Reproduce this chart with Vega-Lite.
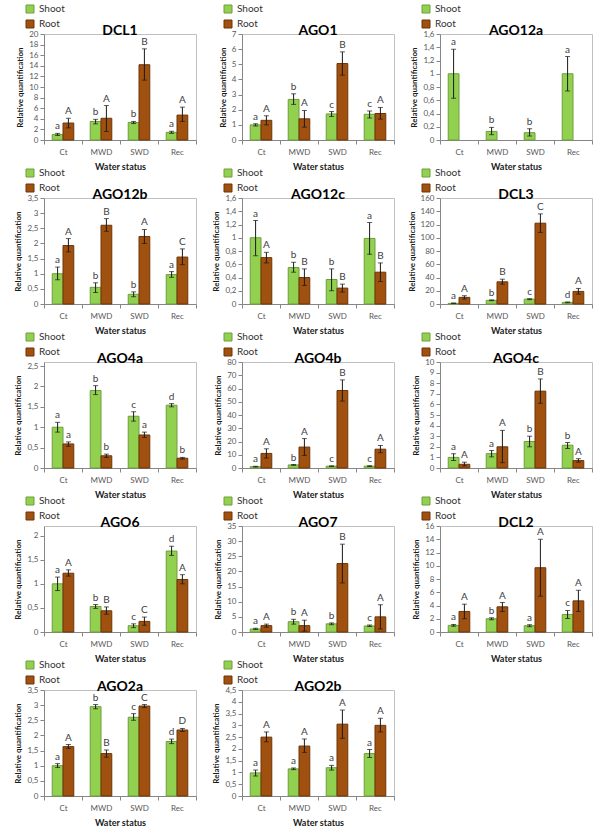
{
"$schema":"https://vega.github.io/schema/vega-lite/v6.json",
"padding":{"left":14,"top":3,"right":0,"bottom":0},
"data":{"values":[
{"g":"DCL1","c":"Ct","t":"Shoot","m":1.05,"lo":0.85,"hi":1.25,"l":"a"},
{"g":"DCL1","c":"MWD","t":"Shoot","m":3.5,"lo":3.05,"hi":3.9,"l":"b"},
{"g":"DCL1","c":"SWD","t":"Shoot","m":3.3,"lo":3.1,"hi":3.5,"l":"b"},
{"g":"DCL1","c":"Rec","t":"Shoot","m":1.45,"lo":1.25,"hi":1.65,"l":"a"},
{"g":"DCL1","c":"Ct","t":"Root","m":3.2,"lo":2.3,"hi":4.1,"l":"A"},
{"g":"DCL1","c":"MWD","t":"Root","m":4.1,"lo":1.6,"hi":6.5,"l":"A"},
{"g":"DCL1","c":"SWD","t":"Root","m":14.2,"lo":11.3,"hi":17.2,"l":"B"},
{"g":"DCL1","c":"Rec","t":"Root","m":4.7,"lo":3.5,"hi":6.2,"l":"A"},
{"g":"AGO1","c":"Ct","t":"Shoot","m":1.0,"lo":0.93,"hi":1.07,"l":"a"},
{"g":"AGO1","c":"MWD","t":"Shoot","m":2.68,"lo":2.35,"hi":3.05,"l":"b"},
{"g":"AGO1","c":"SWD","t":"Shoot","m":1.72,"lo":1.55,"hi":1.88,"l":"c"},
{"g":"AGO1","c":"Rec","t":"Shoot","m":1.7,"lo":1.45,"hi":1.92,"l":"c"},
{"g":"AGO1","c":"Ct","t":"Root","m":1.3,"lo":1.0,"hi":1.6,"l":"A"},
{"g":"AGO1","c":"MWD","t":"Root","m":1.4,"lo":0.85,"hi":1.95,"l":"A"},
{"g":"AGO1","c":"SWD","t":"Root","m":5.05,"lo":4.28,"hi":5.82,"l":"B"},
{"g":"AGO1","c":"Rec","t":"Root","m":1.75,"lo":1.38,"hi":2.15,"l":"A"},
{"g":"AGO12a","c":"Ct","t":"Shoot","m":1.0,"lo":0.63,"hi":1.37,"l":"a"},
{"g":"AGO12a","c":"MWD","t":"Shoot","m":0.13,"lo":0.08,"hi":0.19,"l":"b"},
{"g":"AGO12a","c":"SWD","t":"Shoot","m":0.11,"lo":0.06,"hi":0.17,"l":"b"},
{"g":"AGO12a","c":"Rec","t":"Shoot","m":1.0,"lo":0.74,"hi":1.26,"l":"a"},
{"g":"AGO12b","c":"Ct","t":"Shoot","m":1.0,"lo":0.8,"hi":1.22,"l":"a"},
{"g":"AGO12b","c":"MWD","t":"Shoot","m":0.55,"lo":0.38,"hi":0.7,"l":"b"},
{"g":"AGO12b","c":"SWD","t":"Shoot","m":0.32,"lo":0.24,"hi":0.4,"l":"b"},
{"g":"AGO12b","c":"Rec","t":"Shoot","m":0.97,"lo":0.88,"hi":1.07,"l":"a"},
{"g":"AGO12b","c":"Ct","t":"Root","m":1.93,"lo":1.72,"hi":2.16,"l":"A"},
{"g":"AGO12b","c":"MWD","t":"Root","m":2.6,"lo":2.4,"hi":2.82,"l":"B"},
{"g":"AGO12b","c":"SWD","t":"Root","m":2.23,"lo":2.0,"hi":2.46,"l":"A"},
{"g":"AGO12b","c":"Rec","t":"Root","m":1.55,"lo":1.3,"hi":1.82,"l":"C"},
{"g":"AGO12c","c":"Ct","t":"Shoot","m":1.0,"lo":0.73,"hi":1.26,"l":"a"},
{"g":"AGO12c","c":"MWD","t":"Shoot","m":0.55,"lo":0.48,"hi":0.63,"l":"b"},
{"g":"AGO12c","c":"SWD","t":"Shoot","m":0.37,"lo":0.2,"hi":0.53,"l":"b"},
{"g":"AGO12c","c":"Rec","t":"Shoot","m":0.99,"lo":0.75,"hi":1.23,"l":"a"},
{"g":"AGO12c","c":"Ct","t":"Root","m":0.7,"lo":0.62,"hi":0.78,"l":"A"},
{"g":"AGO12c","c":"MWD","t":"Root","m":0.4,"lo":0.28,"hi":0.53,"l":"B"},
{"g":"AGO12c","c":"SWD","t":"Root","m":0.24,"lo":0.18,"hi":0.3,"l":"B"},
{"g":"AGO12c","c":"Rec","t":"Root","m":0.48,"lo":0.34,"hi":0.62,"l":"B"},
{"g":"DCL3","c":"Ct","t":"Shoot","m":1.0,"lo":0.6,"hi":1.4,"l":"a"},
{"g":"DCL3","c":"MWD","t":"Shoot","m":5.5,"lo":5.0,"hi":6.2,"l":"b"},
{"g":"DCL3","c":"SWD","t":"Shoot","m":7.3,"lo":6.5,"hi":8.0,"l":"c"},
{"g":"DCL3","c":"Rec","t":"Shoot","m":2.5,"lo":2.0,"hi":3.0,"l":"d"},
{"g":"DCL3","c":"Ct","t":"Root","m":10,"lo":7.5,"hi":12.5,"l":"A"},
{"g":"DCL3","c":"MWD","t":"Root","m":33.5,"lo":30,"hi":37.5,"l":"B"},
{"g":"DCL3","c":"SWD","t":"Root","m":122,"lo":108,"hi":136,"l":"C"},
{"g":"DCL3","c":"Rec","t":"Root","m":19,"lo":15,"hi":23.5,"l":"A"},
{"g":"AGO4a","c":"Ct","t":"Shoot","m":1.0,"lo":0.88,"hi":1.12,"l":"a"},
{"g":"AGO4a","c":"MWD","t":"Shoot","m":1.9,"lo":1.8,"hi":2.02,"l":"b"},
{"g":"AGO4a","c":"SWD","t":"Shoot","m":1.27,"lo":1.15,"hi":1.38,"l":"c"},
{"g":"AGO4a","c":"Rec","t":"Shoot","m":1.54,"lo":1.5,"hi":1.58,"l":"d"},
{"g":"AGO4a","c":"Ct","t":"Root","m":0.59,"lo":0.53,"hi":0.64,"l":"a"},
{"g":"AGO4a","c":"MWD","t":"Root","m":0.3,"lo":0.26,"hi":0.34,"l":"b"},
{"g":"AGO4a","c":"SWD","t":"Root","m":0.81,"lo":0.75,"hi":0.88,"l":"a"},
{"g":"AGO4a","c":"Rec","t":"Root","m":0.24,"lo":0.22,"hi":0.26,"l":"b"},
{"g":"AGO4b","c":"Ct","t":"Shoot","m":1.0,"lo":0.7,"hi":1.3,"l":"a"},
{"g":"AGO4b","c":"MWD","t":"Shoot","m":2.3,"lo":2.0,"hi":2.6,"l":"b"},
{"g":"AGO4b","c":"SWD","t":"Shoot","m":1.4,"lo":1.2,"hi":1.6,"l":"c"},
{"g":"AGO4b","c":"Rec","t":"Shoot","m":1.4,"lo":1.1,"hi":1.7,"l":"c"},
{"g":"AGO4b","c":"Ct","t":"Root","m":11,"lo":7.5,"hi":14.5,"l":"A"},
{"g":"AGO4b","c":"MWD","t":"Root","m":15.8,"lo":9.5,"hi":22.2,"l":"A"},
{"g":"AGO4b","c":"SWD","t":"Root","m":58.5,"lo":50.5,"hi":66.5,"l":"B"},
{"g":"AGO4b","c":"Rec","t":"Root","m":14.2,"lo":11.5,"hi":17,"l":"A"},
{"g":"AGO4c","c":"Ct","t":"Shoot","m":1.0,"lo":0.7,"hi":1.35,"l":"a"},
{"g":"AGO4c","c":"MWD","t":"Shoot","m":1.35,"lo":1.05,"hi":1.65,"l":"a"},
{"g":"AGO4c","c":"SWD","t":"Shoot","m":2.5,"lo":2.0,"hi":3.0,"l":"b"},
{"g":"AGO4c","c":"Rec","t":"Shoot","m":2.15,"lo":1.85,"hi":2.4,"l":"b"},
{"g":"AGO4c","c":"Ct","t":"Root","m":0.35,"lo":0.2,"hi":0.55,"l":"A"},
{"g":"AGO4c","c":"MWD","t":"Root","m":2.0,"lo":0.5,"hi":3.55,"l":"A"},
{"g":"AGO4c","c":"SWD","t":"Root","m":7.25,"lo":6.1,"hi":8.4,"l":"B"},
{"g":"AGO4c","c":"Rec","t":"Root","m":0.7,"lo":0.55,"hi":0.88,"l":"A"},
{"g":"AGO6","c":"Ct","t":"Shoot","m":1.0,"lo":0.86,"hi":1.14,"l":"a"},
{"g":"AGO6","c":"MWD","t":"Shoot","m":0.53,"lo":0.49,"hi":0.57,"l":"b"},
{"g":"AGO6","c":"SWD","t":"Shoot","m":0.13,"lo":0.09,"hi":0.17,"l":"c"},
{"g":"AGO6","c":"Rec","t":"Shoot","m":1.68,"lo":1.59,"hi":1.78,"l":"d"},
{"g":"AGO6","c":"Ct","t":"Root","m":1.22,"lo":1.16,"hi":1.29,"l":"A"},
{"g":"AGO6","c":"MWD","t":"Root","m":0.44,"lo":0.37,"hi":0.52,"l":"B"},
{"g":"AGO6","c":"SWD","t":"Root","m":0.22,"lo":0.14,"hi":0.31,"l":"C"},
{"g":"AGO6","c":"Rec","t":"Root","m":1.09,"lo":1.0,"hi":1.19,"l":"A"},
{"g":"AGO7","c":"Ct","t":"Shoot","m":1.0,"lo":0.8,"hi":1.2,"l":"a"},
{"g":"AGO7","c":"MWD","t":"Shoot","m":3.4,"lo":2.6,"hi":4.2,"l":"b"},
{"g":"AGO7","c":"SWD","t":"Shoot","m":2.7,"lo":2.4,"hi":3.0,"l":"b"},
{"g":"AGO7","c":"Rec","t":"Shoot","m":2.0,"lo":1.8,"hi":2.3,"l":"c"},
{"g":"AGO7","c":"Ct","t":"Root","m":2.1,"lo":1.6,"hi":2.6,"l":"A"},
{"g":"AGO7","c":"MWD","t":"Root","m":2.1,"lo":0.3,"hi":3.9,"l":"A"},
{"g":"AGO7","c":"SWD","t":"Root","m":22.6,"lo":16.2,"hi":29.0,"l":"B"},
{"g":"AGO7","c":"Rec","t":"Root","m":5.0,"lo":1.0,"hi":9.0,"l":"A"},
{"g":"DCL2","c":"Ct","t":"Shoot","m":1.0,"lo":0.85,"hi":1.15,"l":"a"},
{"g":"DCL2","c":"MWD","t":"Shoot","m":2.0,"lo":1.85,"hi":2.15,"l":"b"},
{"g":"DCL2","c":"SWD","t":"Shoot","m":0.95,"lo":0.8,"hi":1.1,"l":"a"},
{"g":"DCL2","c":"Rec","t":"Shoot","m":2.65,"lo":2.05,"hi":3.25,"l":"c"},
{"g":"DCL2","c":"Ct","t":"Root","m":3.1,"lo":2.0,"hi":4.2,"l":"A"},
{"g":"DCL2","c":"MWD","t":"Root","m":3.8,"lo":3.1,"hi":4.45,"l":"A"},
{"g":"DCL2","c":"SWD","t":"Root","m":9.7,"lo":5.4,"hi":14.0,"l":"A"},
{"g":"DCL2","c":"Rec","t":"Root","m":4.7,"lo":3.1,"hi":6.3,"l":"A"},
{"g":"AGO2a","c":"Ct","t":"Shoot","m":1.0,"lo":0.94,"hi":1.07,"l":"a"},
{"g":"AGO2a","c":"MWD","t":"Shoot","m":2.95,"lo":2.88,"hi":3.02,"l":"b"},
{"g":"AGO2a","c":"SWD","t":"Shoot","m":2.6,"lo":2.5,"hi":2.72,"l":"c"},
{"g":"AGO2a","c":"Rec","t":"Shoot","m":1.8,"lo":1.73,"hi":1.88,"l":"d"},
{"g":"AGO2a","c":"Ct","t":"Root","m":1.63,"lo":1.57,"hi":1.7,"l":"A"},
{"g":"AGO2a","c":"MWD","t":"Root","m":1.4,"lo":1.28,"hi":1.52,"l":"B"},
{"g":"AGO2a","c":"SWD","t":"Root","m":2.97,"lo":2.92,"hi":3.02,"l":"C"},
{"g":"AGO2a","c":"Rec","t":"Root","m":2.18,"lo":2.13,"hi":2.23,"l":"D"},
{"g":"AGO2b","c":"Ct","t":"Shoot","m":0.98,"lo":0.85,"hi":1.1,"l":"a"},
{"g":"AGO2b","c":"MWD","t":"Shoot","m":1.15,"lo":1.12,"hi":1.19,"l":"a"},
{"g":"AGO2b","c":"SWD","t":"Shoot","m":1.2,"lo":1.1,"hi":1.3,"l":"a"},
{"g":"AGO2b","c":"Rec","t":"Shoot","m":1.8,"lo":1.63,"hi":1.97,"l":"a"},
{"g":"AGO2b","c":"Ct","t":"Root","m":2.5,"lo":2.3,"hi":2.72,"l":"A"},
{"g":"AGO2b","c":"MWD","t":"Root","m":2.12,"lo":1.85,"hi":2.42,"l":"A"},
{"g":"AGO2b","c":"SWD","t":"Root","m":3.05,"lo":2.45,"hi":3.65,"l":"A"},
{"g":"AGO2b","c":"Rec","t":"Root","m":3.0,"lo":2.72,"hi":3.3,"l":"A"}
]},
"columns":3,
"spacing":{"row":58,"column":46},
"bounds":"flush",
"resolve":{"legend":{"color":"independent","stroke":"independent"}},
"concat":[
{"title":"DCL1","transform":[{"filter":"datum.g=='DCL1'"}],"width":152,"height":106,
"encoding":{"x":{"field":"c","type":"nominal","sort":["Ct","MWD","SWD","Rec"],"title":"Water status","scale":{"paddingInner":0,"paddingOuter":0}},"xOffset":{"field":"t","type":"nominal","scale":{"domain":["Shoot","Root"],"paddingInner":0,"paddingOuter":0.76}}},
"layer":[
{"mark":"bar","encoding":{"y":{"field":"m","type":"quantitative","title":"Relative quantification","scale":{"domain":[0,20]},"axis":{"values":[0,2,4,6,8,10,12,14,16,18,20]}},"color":{"field":"t","type":"nominal","scale":{"domain":["Shoot","Root"],"range":["#92D050","#A0500F"]},"legend":{"title":null}},"stroke":{"field":"t","type":"nominal","scale":{"domain":["Shoot","Root"],"range":["#6E9E3C","#6E3508"]},"legend":{"title":null}}}},
{"mark":"rule","encoding":{"y":{"field":"lo","type":"quantitative","title":"Relative quantification","axis":{"values":[0,2,4,6,8,10,12,14,16,18,20]}},"y2":{"field":"hi"}}},
{"mark":"tick","encoding":{"y":{"field":"lo","type":"quantitative","title":"Relative quantification","axis":{"values":[0,2,4,6,8,10,12,14,16,18,20]}}}},
{"mark":"tick","encoding":{"y":{"field":"hi","type":"quantitative","title":"Relative quantification","axis":{"values":[0,2,4,6,8,10,12,14,16,18,20]}}}},
{"mark":"text","encoding":{"y":{"field":"hi","type":"quantitative","title":"Relative quantification","axis":{"values":[0,2,4,6,8,10,12,14,16,18,20]}},"text":{"field":"l"}}}
]},
{"title":"AGO1","transform":[{"filter":"datum.g=='AGO1'"}],"width":152,"height":106,
"encoding":{"x":{"field":"c","type":"nominal","sort":["Ct","MWD","SWD","Rec"],"title":"Water status","scale":{"paddingInner":0,"paddingOuter":0}},"xOffset":{"field":"t","type":"nominal","scale":{"domain":["Shoot","Root"],"paddingInner":0,"paddingOuter":0.76}}},
"layer":[
{"mark":"bar","encoding":{"y":{"field":"m","type":"quantitative","title":"Relative quantification","scale":{"domain":[0,7]},"axis":{"values":[0,1,2,3,4,5,6,7]}},"color":{"field":"t","type":"nominal","scale":{"domain":["Shoot","Root"],"range":["#92D050","#A0500F"]},"legend":{"title":null}},"stroke":{"field":"t","type":"nominal","scale":{"domain":["Shoot","Root"],"range":["#6E9E3C","#6E3508"]},"legend":{"title":null}}}},
{"mark":"rule","encoding":{"y":{"field":"lo","type":"quantitative","title":"Relative quantification","axis":{"values":[0,1,2,3,4,5,6,7]}},"y2":{"field":"hi"}}},
{"mark":"tick","encoding":{"y":{"field":"lo","type":"quantitative","title":"Relative quantification","axis":{"values":[0,1,2,3,4,5,6,7]}}}},
{"mark":"tick","encoding":{"y":{"field":"hi","type":"quantitative","title":"Relative quantification","axis":{"values":[0,1,2,3,4,5,6,7]}}}},
{"mark":"text","encoding":{"y":{"field":"hi","type":"quantitative","title":"Relative quantification","axis":{"values":[0,1,2,3,4,5,6,7]}},"text":{"field":"l"}}}
]},
{"title":"AGO12a","transform":[{"filter":"datum.g=='AGO12a'"}],"width":152,"height":106,
"encoding":{"x":{"field":"c","type":"nominal","sort":["Ct","MWD","SWD","Rec"],"title":"Water status","scale":{"paddingInner":0,"paddingOuter":0}},"xOffset":{"field":"t","type":"nominal","scale":{"domain":["Shoot","Root"],"paddingInner":0,"paddingOuter":0.76}}},
"layer":[
{"mark":"bar","encoding":{"y":{"field":"m","type":"quantitative","title":"Relative quantification","scale":{"domain":[0,1.6]},"axis":{"values":[0,0.2,0.4,0.6,0.8,1,1.2,1.4,1.6]}},"color":{"field":"t","type":"nominal","scale":{"domain":["Shoot","Root"],"range":["#92D050","#A0500F"]},"legend":{"title":null}},"stroke":{"field":"t","type":"nominal","scale":{"domain":["Shoot","Root"],"range":["#6E9E3C","#6E3508"]},"legend":{"title":null}}}},
{"mark":"rule","encoding":{"y":{"field":"lo","type":"quantitative","title":"Relative quantification","axis":{"values":[0,0.2,0.4,0.6,0.8,1,1.2,1.4,1.6]}},"y2":{"field":"hi"}}},
{"mark":"tick","encoding":{"y":{"field":"lo","type":"quantitative","title":"Relative quantification","axis":{"values":[0,0.2,0.4,0.6,0.8,1,1.2,1.4,1.6]}}}},
{"mark":"tick","encoding":{"y":{"field":"hi","type":"quantitative","title":"Relative quantification","axis":{"values":[0,0.2,0.4,0.6,0.8,1,1.2,1.4,1.6]}}}},
{"mark":"text","encoding":{"y":{"field":"hi","type":"quantitative","title":"Relative quantification","axis":{"values":[0,0.2,0.4,0.6,0.8,1,1.2,1.4,1.6]}},"text":{"field":"l"}}}
]},
{"title":"AGO12b","transform":[{"filter":"datum.g=='AGO12b'"}],"width":152,"height":106,
"encoding":{"x":{"field":"c","type":"nominal","sort":["Ct","MWD","SWD","Rec"],"title":"Water status","scale":{"paddingInner":0,"paddingOuter":0}},"xOffset":{"field":"t","type":"nominal","scale":{"domain":["Shoot","Root"],"paddingInner":0,"paddingOuter":0.76}}},
"layer":[
{"mark":"bar","encoding":{"y":{"field":"m","type":"quantitative","title":"Relative quantification","scale":{"domain":[0,3.5]},"axis":{"values":[0,0.5,1,1.5,2,2.5,3,3.5]}},"color":{"field":"t","type":"nominal","scale":{"domain":["Shoot","Root"],"range":["#92D050","#A0500F"]},"legend":{"title":null}},"stroke":{"field":"t","type":"nominal","scale":{"domain":["Shoot","Root"],"range":["#6E9E3C","#6E3508"]},"legend":{"title":null}}}},
{"mark":"rule","encoding":{"y":{"field":"lo","type":"quantitative","title":"Relative quantification","axis":{"values":[0,0.5,1,1.5,2,2.5,3,3.5]}},"y2":{"field":"hi"}}},
{"mark":"tick","encoding":{"y":{"field":"lo","type":"quantitative","title":"Relative quantification","axis":{"values":[0,0.5,1,1.5,2,2.5,3,3.5]}}}},
{"mark":"tick","encoding":{"y":{"field":"hi","type":"quantitative","title":"Relative quantification","axis":{"values":[0,0.5,1,1.5,2,2.5,3,3.5]}}}},
{"mark":"text","encoding":{"y":{"field":"hi","type":"quantitative","title":"Relative quantification","axis":{"values":[0,0.5,1,1.5,2,2.5,3,3.5]}},"text":{"field":"l"}}}
]},
{"title":"AGO12c","transform":[{"filter":"datum.g=='AGO12c'"}],"width":152,"height":106,
"encoding":{"x":{"field":"c","type":"nominal","sort":["Ct","MWD","SWD","Rec"],"title":"Water status","scale":{"paddingInner":0,"paddingOuter":0}},"xOffset":{"field":"t","type":"nominal","scale":{"domain":["Shoot","Root"],"paddingInner":0,"paddingOuter":0.76}}},
"layer":[
{"mark":"bar","encoding":{"y":{"field":"m","type":"quantitative","title":"Relative quantification","scale":{"domain":[0,1.6]},"axis":{"values":[0,0.2,0.4,0.6,0.8,1,1.2,1.4,1.6]}},"color":{"field":"t","type":"nominal","scale":{"domain":["Shoot","Root"],"range":["#92D050","#A0500F"]},"legend":{"title":null}},"stroke":{"field":"t","type":"nominal","scale":{"domain":["Shoot","Root"],"range":["#6E9E3C","#6E3508"]},"legend":{"title":null}}}},
{"mark":"rule","encoding":{"y":{"field":"lo","type":"quantitative","title":"Relative quantification","axis":{"values":[0,0.2,0.4,0.6,0.8,1,1.2,1.4,1.6]}},"y2":{"field":"hi"}}},
{"mark":"tick","encoding":{"y":{"field":"lo","type":"quantitative","title":"Relative quantification","axis":{"values":[0,0.2,0.4,0.6,0.8,1,1.2,1.4,1.6]}}}},
{"mark":"tick","encoding":{"y":{"field":"hi","type":"quantitative","title":"Relative quantification","axis":{"values":[0,0.2,0.4,0.6,0.8,1,1.2,1.4,1.6]}}}},
{"mark":"text","encoding":{"y":{"field":"hi","type":"quantitative","title":"Relative quantification","axis":{"values":[0,0.2,0.4,0.6,0.8,1,1.2,1.4,1.6]}},"text":{"field":"l"}}}
]},
{"title":"DCL3","transform":[{"filter":"datum.g=='DCL3'"}],"width":152,"height":106,
"encoding":{"x":{"field":"c","type":"nominal","sort":["Ct","MWD","SWD","Rec"],"title":"Water status","scale":{"paddingInner":0,"paddingOuter":0}},"xOffset":{"field":"t","type":"nominal","scale":{"domain":["Shoot","Root"],"paddingInner":0,"paddingOuter":0.76}}},
"layer":[
{"mark":"bar","encoding":{"y":{"field":"m","type":"quantitative","title":"Relative quantification","scale":{"domain":[0,160]},"axis":{"values":[0,20,40,60,80,100,120,140,160]}},"color":{"field":"t","type":"nominal","scale":{"domain":["Shoot","Root"],"range":["#92D050","#A0500F"]},"legend":{"title":null}},"stroke":{"field":"t","type":"nominal","scale":{"domain":["Shoot","Root"],"range":["#6E9E3C","#6E3508"]},"legend":{"title":null}}}},
{"mark":"rule","encoding":{"y":{"field":"lo","type":"quantitative","title":"Relative quantification","axis":{"values":[0,20,40,60,80,100,120,140,160]}},"y2":{"field":"hi"}}},
{"mark":"tick","encoding":{"y":{"field":"lo","type":"quantitative","title":"Relative quantification","axis":{"values":[0,20,40,60,80,100,120,140,160]}}}},
{"mark":"tick","encoding":{"y":{"field":"hi","type":"quantitative","title":"Relative quantification","axis":{"values":[0,20,40,60,80,100,120,140,160]}}}},
{"mark":"text","encoding":{"y":{"field":"hi","type":"quantitative","title":"Relative quantification","axis":{"values":[0,20,40,60,80,100,120,140,160]}},"text":{"field":"l"}}}
]},
{"title":"AGO4a","transform":[{"filter":"datum.g=='AGO4a'"}],"width":152,"height":106,
"encoding":{"x":{"field":"c","type":"nominal","sort":["Ct","MWD","SWD","Rec"],"title":"Water status","scale":{"paddingInner":0,"paddingOuter":0}},"xOffset":{"field":"t","type":"nominal","scale":{"domain":["Shoot","Root"],"paddingInner":0,"paddingOuter":0.76}}},
"layer":[
{"mark":"bar","encoding":{"y":{"field":"m","type":"quantitative","title":"Relative quantification","scale":{"domain":[0,2.5]},"axis":{"values":[0,0.5,1,1.5,2,2.5]}},"color":{"field":"t","type":"nominal","scale":{"domain":["Shoot","Root"],"range":["#92D050","#A0500F"]},"legend":{"title":null}},"stroke":{"field":"t","type":"nominal","scale":{"domain":["Shoot","Root"],"range":["#6E9E3C","#6E3508"]},"legend":{"title":null}}}},
{"mark":"rule","encoding":{"y":{"field":"lo","type":"quantitative","title":"Relative quantification","axis":{"values":[0,0.5,1,1.5,2,2.5]}},"y2":{"field":"hi"}}},
{"mark":"tick","encoding":{"y":{"field":"lo","type":"quantitative","title":"Relative quantification","axis":{"values":[0,0.5,1,1.5,2,2.5]}}}},
{"mark":"tick","encoding":{"y":{"field":"hi","type":"quantitative","title":"Relative quantification","axis":{"values":[0,0.5,1,1.5,2,2.5]}}}},
{"mark":"text","encoding":{"y":{"field":"hi","type":"quantitative","title":"Relative quantification","axis":{"values":[0,0.5,1,1.5,2,2.5]}},"text":{"field":"l"}}}
]},
{"title":"AGO4b","transform":[{"filter":"datum.g=='AGO4b'"}],"width":152,"height":106,
"encoding":{"x":{"field":"c","type":"nominal","sort":["Ct","MWD","SWD","Rec"],"title":"Water status","scale":{"paddingInner":0,"paddingOuter":0}},"xOffset":{"field":"t","type":"nominal","scale":{"domain":["Shoot","Root"],"paddingInner":0,"paddingOuter":0.76}}},
"layer":[
{"mark":"bar","encoding":{"y":{"field":"m","type":"quantitative","title":"Relative quantification","scale":{"domain":[0,80]},"axis":{"values":[0,10,20,30,40,50,60,70,80]}},"color":{"field":"t","type":"nominal","scale":{"domain":["Shoot","Root"],"range":["#92D050","#A0500F"]},"legend":{"title":null}},"stroke":{"field":"t","type":"nominal","scale":{"domain":["Shoot","Root"],"range":["#6E9E3C","#6E3508"]},"legend":{"title":null}}}},
{"mark":"rule","encoding":{"y":{"field":"lo","type":"quantitative","title":"Relative quantification","axis":{"values":[0,10,20,30,40,50,60,70,80]}},"y2":{"field":"hi"}}},
{"mark":"tick","encoding":{"y":{"field":"lo","type":"quantitative","title":"Relative quantification","axis":{"values":[0,10,20,30,40,50,60,70,80]}}}},
{"mark":"tick","encoding":{"y":{"field":"hi","type":"quantitative","title":"Relative quantification","axis":{"values":[0,10,20,30,40,50,60,70,80]}}}},
{"mark":"text","encoding":{"y":{"field":"hi","type":"quantitative","title":"Relative quantification","axis":{"values":[0,10,20,30,40,50,60,70,80]}},"text":{"field":"l"}}}
]},
{"title":"AGO4c","transform":[{"filter":"datum.g=='AGO4c'"}],"width":152,"height":106,
"encoding":{"x":{"field":"c","type":"nominal","sort":["Ct","MWD","SWD","Rec"],"title":"Water status","scale":{"paddingInner":0,"paddingOuter":0}},"xOffset":{"field":"t","type":"nominal","scale":{"domain":["Shoot","Root"],"paddingInner":0,"paddingOuter":0.76}}},
"layer":[
{"mark":"bar","encoding":{"y":{"field":"m","type":"quantitative","title":"Relative quantification","scale":{"domain":[0,10]},"axis":{"values":[0,1,2,3,4,5,6,7,8,9,10]}},"color":{"field":"t","type":"nominal","scale":{"domain":["Shoot","Root"],"range":["#92D050","#A0500F"]},"legend":{"title":null}},"stroke":{"field":"t","type":"nominal","scale":{"domain":["Shoot","Root"],"range":["#6E9E3C","#6E3508"]},"legend":{"title":null}}}},
{"mark":"rule","encoding":{"y":{"field":"lo","type":"quantitative","title":"Relative quantification","axis":{"values":[0,1,2,3,4,5,6,7,8,9,10]}},"y2":{"field":"hi"}}},
{"mark":"tick","encoding":{"y":{"field":"lo","type":"quantitative","title":"Relative quantification","axis":{"values":[0,1,2,3,4,5,6,7,8,9,10]}}}},
{"mark":"tick","encoding":{"y":{"field":"hi","type":"quantitative","title":"Relative quantification","axis":{"values":[0,1,2,3,4,5,6,7,8,9,10]}}}},
{"mark":"text","encoding":{"y":{"field":"hi","type":"quantitative","title":"Relative quantification","axis":{"values":[0,1,2,3,4,5,6,7,8,9,10]}},"text":{"field":"l"}}}
]},
{"title":"AGO6","transform":[{"filter":"datum.g=='AGO6'"}],"width":152,"height":106,
"encoding":{"x":{"field":"c","type":"nominal","sort":["Ct","MWD","SWD","Rec"],"title":"Water status","scale":{"paddingInner":0,"paddingOuter":0}},"xOffset":{"field":"t","type":"nominal","scale":{"domain":["Shoot","Root"],"paddingInner":0,"paddingOuter":0.76}}},
"layer":[
{"mark":"bar","encoding":{"y":{"field":"m","type":"quantitative","title":"Relative quantification","scale":{"domain":[0,2.2]},"axis":{"values":[0,0.5,1,1.5,2]}},"color":{"field":"t","type":"nominal","scale":{"domain":["Shoot","Root"],"range":["#92D050","#A0500F"]},"legend":{"title":null}},"stroke":{"field":"t","type":"nominal","scale":{"domain":["Shoot","Root"],"range":["#6E9E3C","#6E3508"]},"legend":{"title":null}}}},
{"mark":"rule","encoding":{"y":{"field":"lo","type":"quantitative","title":"Relative quantification","axis":{"values":[0,0.5,1,1.5,2]}},"y2":{"field":"hi"}}},
{"mark":"tick","encoding":{"y":{"field":"lo","type":"quantitative","title":"Relative quantification","axis":{"values":[0,0.5,1,1.5,2]}}}},
{"mark":"tick","encoding":{"y":{"field":"hi","type":"quantitative","title":"Relative quantification","axis":{"values":[0,0.5,1,1.5,2]}}}},
{"mark":"text","encoding":{"y":{"field":"hi","type":"quantitative","title":"Relative quantification","axis":{"values":[0,0.5,1,1.5,2]}},"text":{"field":"l"}}}
]},
{"title":"AGO7","transform":[{"filter":"datum.g=='AGO7'"}],"width":152,"height":106,
"encoding":{"x":{"field":"c","type":"nominal","sort":["Ct","MWD","SWD","Rec"],"title":"Water status","scale":{"paddingInner":0,"paddingOuter":0}},"xOffset":{"field":"t","type":"nominal","scale":{"domain":["Shoot","Root"],"paddingInner":0,"paddingOuter":0.76}}},
"layer":[
{"mark":"bar","encoding":{"y":{"field":"m","type":"quantitative","title":"Relative quantification","scale":{"domain":[0,35]},"axis":{"values":[0,5,10,15,20,25,30,35]}},"color":{"field":"t","type":"nominal","scale":{"domain":["Shoot","Root"],"range":["#92D050","#A0500F"]},"legend":{"title":null}},"stroke":{"field":"t","type":"nominal","scale":{"domain":["Shoot","Root"],"range":["#6E9E3C","#6E3508"]},"legend":{"title":null}}}},
{"mark":"rule","encoding":{"y":{"field":"lo","type":"quantitative","title":"Relative quantification","axis":{"values":[0,5,10,15,20,25,30,35]}},"y2":{"field":"hi"}}},
{"mark":"tick","encoding":{"y":{"field":"lo","type":"quantitative","title":"Relative quantification","axis":{"values":[0,5,10,15,20,25,30,35]}}}},
{"mark":"tick","encoding":{"y":{"field":"hi","type":"quantitative","title":"Relative quantification","axis":{"values":[0,5,10,15,20,25,30,35]}}}},
{"mark":"text","encoding":{"y":{"field":"hi","type":"quantitative","title":"Relative quantification","axis":{"values":[0,5,10,15,20,25,30,35]}},"text":{"field":"l"}}}
]},
{"title":"DCL2","transform":[{"filter":"datum.g=='DCL2'"}],"width":152,"height":106,
"encoding":{"x":{"field":"c","type":"nominal","sort":["Ct","MWD","SWD","Rec"],"title":"Water status","scale":{"paddingInner":0,"paddingOuter":0}},"xOffset":{"field":"t","type":"nominal","scale":{"domain":["Shoot","Root"],"paddingInner":0,"paddingOuter":0.76}}},
"layer":[
{"mark":"bar","encoding":{"y":{"field":"m","type":"quantitative","title":"Relative quantification","scale":{"domain":[0,16]},"axis":{"values":[0,2,4,6,8,10,12,14,16]}},"color":{"field":"t","type":"nominal","scale":{"domain":["Shoot","Root"],"range":["#92D050","#A0500F"]},"legend":{"title":null}},"stroke":{"field":"t","type":"nominal","scale":{"domain":["Shoot","Root"],"range":["#6E9E3C","#6E3508"]},"legend":{"title":null}}}},
{"mark":"rule","encoding":{"y":{"field":"lo","type":"quantitative","title":"Relative quantification","axis":{"values":[0,2,4,6,8,10,12,14,16]}},"y2":{"field":"hi"}}},
{"mark":"tick","encoding":{"y":{"field":"lo","type":"quantitative","title":"Relative quantification","axis":{"values":[0,2,4,6,8,10,12,14,16]}}}},
{"mark":"tick","encoding":{"y":{"field":"hi","type":"quantitative","title":"Relative quantification","axis":{"values":[0,2,4,6,8,10,12,14,16]}}}},
{"mark":"text","encoding":{"y":{"field":"hi","type":"quantitative","title":"Relative quantification","axis":{"values":[0,2,4,6,8,10,12,14,16]}},"text":{"field":"l"}}}
]},
{"title":"AGO2a","transform":[{"filter":"datum.g=='AGO2a'"}],"width":152,"height":106,
"encoding":{"x":{"field":"c","type":"nominal","sort":["Ct","MWD","SWD","Rec"],"title":"Water status","scale":{"paddingInner":0,"paddingOuter":0}},"xOffset":{"field":"t","type":"nominal","scale":{"domain":["Shoot","Root"],"paddingInner":0,"paddingOuter":0.76}}},
"layer":[
{"mark":"bar","encoding":{"y":{"field":"m","type":"quantitative","title":"Relative quantification","scale":{"domain":[0,3.5]},"axis":{"values":[0,0.5,1,1.5,2,2.5,3,3.5]}},"color":{"field":"t","type":"nominal","scale":{"domain":["Shoot","Root"],"range":["#92D050","#A0500F"]},"legend":{"title":null}},"stroke":{"field":"t","type":"nominal","scale":{"domain":["Shoot","Root"],"range":["#6E9E3C","#6E3508"]},"legend":{"title":null}}}},
{"mark":"rule","encoding":{"y":{"field":"lo","type":"quantitative","title":"Relative quantification","axis":{"values":[0,0.5,1,1.5,2,2.5,3,3.5]}},"y2":{"field":"hi"}}},
{"mark":"tick","encoding":{"y":{"field":"lo","type":"quantitative","title":"Relative quantification","axis":{"values":[0,0.5,1,1.5,2,2.5,3,3.5]}}}},
{"mark":"tick","encoding":{"y":{"field":"hi","type":"quantitative","title":"Relative quantification","axis":{"values":[0,0.5,1,1.5,2,2.5,3,3.5]}}}},
{"mark":"text","encoding":{"y":{"field":"hi","type":"quantitative","title":"Relative quantification","axis":{"values":[0,0.5,1,1.5,2,2.5,3,3.5]}},"text":{"field":"l"}}}
]},
{"title":"AGO2b","transform":[{"filter":"datum.g=='AGO2b'"}],"width":152,"height":106,
"encoding":{"x":{"field":"c","type":"nominal","sort":["Ct","MWD","SWD","Rec"],"title":"Water status","scale":{"paddingInner":0,"paddingOuter":0}},"xOffset":{"field":"t","type":"nominal","scale":{"domain":["Shoot","Root"],"paddingInner":0,"paddingOuter":0.76}}},
"layer":[
{"mark":"bar","encoding":{"y":{"field":"m","type":"quantitative","title":"Relative quantification","scale":{"domain":[0,4.5]},"axis":{"values":[0,0.5,1,1.5,2,2.5,3,3.5,4,4.5]}},"color":{"field":"t","type":"nominal","scale":{"domain":["Shoot","Root"],"range":["#92D050","#A0500F"]},"legend":{"title":null}},"stroke":{"field":"t","type":"nominal","scale":{"domain":["Shoot","Root"],"range":["#6E9E3C","#6E3508"]},"legend":{"title":null}}}},
{"mark":"rule","encoding":{"y":{"field":"lo","type":"quantitative","title":"Relative quantification","axis":{"values":[0,0.5,1,1.5,2,2.5,3,3.5,4,4.5]}},"y2":{"field":"hi"}}},
{"mark":"tick","encoding":{"y":{"field":"lo","type":"quantitative","title":"Relative quantification","axis":{"values":[0,0.5,1,1.5,2,2.5,3,3.5,4,4.5]}}}},
{"mark":"tick","encoding":{"y":{"field":"hi","type":"quantitative","title":"Relative quantification","axis":{"values":[0,0.5,1,1.5,2,2.5,3,3.5,4,4.5]}}}},
{"mark":"text","encoding":{"y":{"field":"hi","type":"quantitative","title":"Relative quantification","axis":{"values":[0,0.5,1,1.5,2,2.5,3,3.5,4,4.5]}},"text":{"field":"l"}}}
]}
],
"config":{
"font":"Lato",
"view":{"stroke":"#c0c0c0","strokeWidth":1},
"title":{"fontSize":14,"fontWeight":"bold","offset":1,"dy":35,"color":"#000000","font":"Lato"},
"axis":{"labelFontSize":8,"labelColor":"#595959","titleFontSize":8,"titleColor":"#1a1a1a","titleFontWeight":"bold","domainColor":"#868686","tickColor":"#868686","tickSize":4,"grid":false,"labelPadding":2},
"axisX":{"labelAngle":0,"tickBand":"extent","labelPadding":4,"titlePadding":6,"titleFontSize":9},
"axisY":{"labelExpr":"replace(format(datum.value,'~g'),'.',',')","titlePadding":4},
"legend":{"orient":"none","legendX":-19,"legendY":-30,"symbolType":"square","symbolSize":64,"symbolStrokeWidth":1,"labelFontSize":10,"labelColor":"#333333","rowPadding":3,"padding":0},
"bar":{"strokeWidth":1},
"rule":{"color":"#1a1a1a","strokeWidth":1},
"tick":{"color":"#1a1a1a","thickness":1,"size":5},
"text":{"fontSize":10,"color":"#404040","baseline":"bottom","dy":-2}
}
}
